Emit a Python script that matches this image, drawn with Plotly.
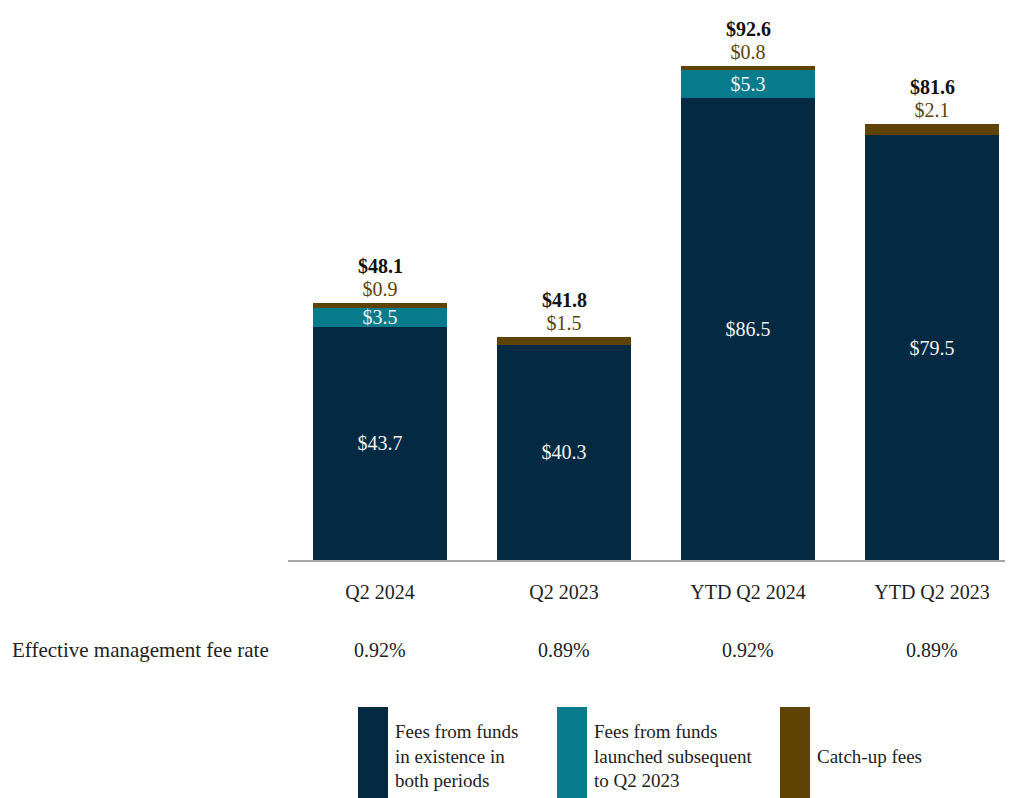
import plotly.graph_objects as go

# data (in $ millions)
categories = ["Q2 2024", "Q2 2023", "YTD Q2 2024", "YTD Q2 2023"]
existing_funds = [43.7, 40.3, 86.5, 79.5]
new_funds = [3.5, 0.0, 5.3, 0.0]
catch_up = [0.9, 1.5, 0.8, 2.1]
totals = [48.1, 41.8, 92.6, 81.6]
fee_rates = ["0.92%", "0.89%", "0.92%", "0.89%"]

series_names = [
    ["Fees from funds", "in existence in", "both periods"],
    ["Fees from funds", "launched subsequent", "to Q2 2023"],
    ["Catch-up fees"],
]
colors = ["#032A42", "#077B8C", "#5E4305"]

FONT = "Liberation Serif"
OFF = 8  # page margin of the html body
W, H = 1013 - OFF, 798 - OFF
L, T, B = 288 - OFF, 2, 238
plot_h = H - T - B
plot_w = W - L


def px2x(px):
    return (px - OFF - L) / plot_w


def px2y(py):
    return (H - B - (py - OFF)) / plot_h


def money(vals):
    return ["$%.1f" % v if v > 0 else "" for v in vals]


fig = go.Figure()
fig.add_trace(go.Bar(
    x=categories, y=existing_funds, name=" ".join(series_names[0]),
    marker=dict(color=colors[0], line=dict(width=0)),
    text=money(existing_funds), textposition="inside", insidetextanchor="middle",
    textangle=0, constraintext="none",
    textfont=dict(family=FONT, size=20, color="#f2f2f2"),
))
fig.add_trace(go.Bar(
    x=categories, y=new_funds, name=" ".join(series_names[1]),
    marker=dict(color=colors[1], line=dict(width=0)),
    text=money(new_funds), textposition="inside", insidetextanchor="middle",
    textangle=0, constraintext="none",
    textfont=dict(family=FONT, size=20, color="#f2f2f2"),
))
fig.add_trace(go.Bar(
    x=categories, y=catch_up, name=" ".join(series_names[2]),
    marker=dict(color=colors[2], line=dict(width=0)),
    text=money(catch_up), textposition="outside", textangle=0,
    constraintext="none", cliponaxis=False,
    textfont=dict(family=FONT, size=20, color=colors[2]),
))

annotations = []
# totals above each bar
for c, t in zip(categories, totals):
    annotations.append(dict(
        x=c, y=t, xref="x", yref="y", text="<b>$%.1f</b>" % t, showarrow=False,
        yanchor="bottom", yshift=24, font=dict(family=FONT, size=20, color="#111111"),
    ))

# effective management fee rate row
annotations.append(dict(
    x=px2x(10), y=px2y(650), xref="paper", yref="paper", xanchor="left", yanchor="middle",
    text="Effective management fee rate", showarrow=False,
    font=dict(family=FONT, size=21, color="#222222"),
))
for c, r in zip(categories, fee_rates):
    annotations.append(dict(
        x=c, y=px2y(650), xref="x", yref="paper", yanchor="middle",
        text=r, showarrow=False, font=dict(family=FONT, size=20, color="#222222"),
    ))

# custom legend: tall swatches with wrapped text
shapes = []
swatch_x = [358, 557, 780]
for sx, col, lines in zip(swatch_x, colors, series_names):
    shapes.append(dict(
        type="rect", xref="paper", yref="paper",
        x0=px2x(sx), x1=px2x(sx + 30), y0=px2y(800), y1=px2y(707),
        fillcolor=col, line=dict(width=0), layer="above",
    ))
    annotations.append(dict(
        x=px2x(sx + 35), y=px2y(756), xref="paper", yref="paper",
        xanchor="left", yanchor="middle", align="left", text="<br>".join(lines),
        showarrow=False, font=dict(family=FONT, size=19, color="#222222"),
    ))

fig.update_layout(
    barmode="stack",
    bargap=0.272,
    width=W, height=H,
    margin=dict(l=L, r=0, t=T, b=B),
    plot_bgcolor="white", paper_bgcolor="white",
    showlegend=False,
    annotations=annotations,
    shapes=shapes,
    font=dict(family=FONT),
)
fig.update_xaxes(
    range=[-0.5, -0.5 + plot_w / 184.0],
    showline=True, linecolor="#a6a6a6", linewidth=2,
    ticks="", ticklabelstandoff=13,
    tickfont=dict(family=FONT, size=20, color="#222222"),
    showgrid=False, fixedrange=True,
)
fig.update_yaxes(
    range=[0, 103], visible=False, showgrid=False, zeroline=False,
)

fig.write_html("out.html")
